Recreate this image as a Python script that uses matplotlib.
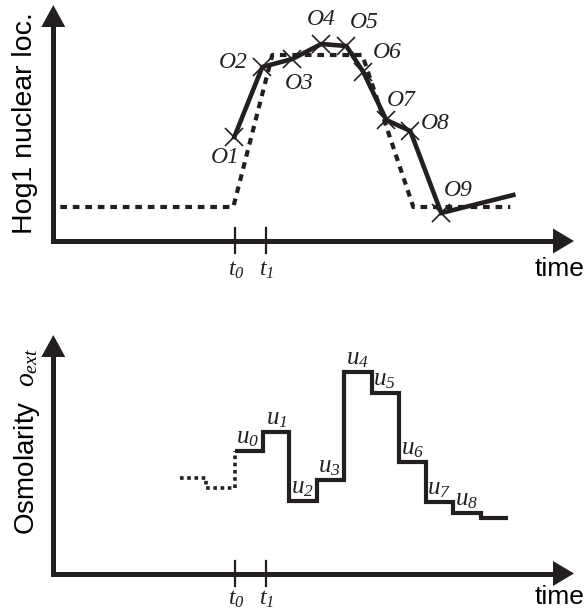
import matplotlib
matplotlib.use("Agg")
import matplotlib.pyplot as plt
from matplotlib.patches import Polygon
import numpy as np

plt.rcParams['mathtext.fontset'] = 'custom'
plt.rcParams['mathtext.it'] = 'Liberation Serif:italic'
plt.rcParams['mathtext.rm'] = 'Liberation Serif:italic'
plt.rcParams['mathtext.default'] = 'it'

INK = '#231f20'

# ---------------- data (top panel: Hog1 nuclear localisation) ----------------
obs_time = [181, 209, 239, 268, 293, 310, 333, 357, 388]
obs_value = [104, 174, 182, 197, 195, 169, 121, 110, 28]
obs_labels = ['O1', 'O2', 'O3', 'O4', 'O5', 'O6', 'O7', 'O8', 'O9']
tail_time = [460]
tail_value = [46]

model_time = [7, 180, 219, 309, 360, 457]
model_value = [34, 34, 186, 186, 34, 34]

# ---------------- data (bottom panel: osmolarity steps) ----------------
step_edges = [181.7, 210, 236, 263.4, 291, 318.4, 346, 372.7, 400, 427.4, 455]
step_levels = [122.5, 141.8, 72.8, 93.5, 201.2, 180.2, 111.8, 71.8, 60.2, 55.2]
step_labels = ['$u_0$', '$u_1$', '$u_2$', '$u_3$', '$u_4$', '$u_5$', '$u_6$',
               '$u_7$', '$u_8$']
pre_time = [126.7, 152.7, 181.7]
pre_level = [95.2, 85.8, 122.5]

tick_positions = [181.7, 212.4]
tick_labels = ['$t_0$', '$t_1$']

# label offsets (pixels) for observation labels
obs_offsets = [(-9, -20), (-29, 5), (7, -24), (0, 25), (18, 24), (24, 20),
               (15, 20), (25, 8), (17, 23)]

W, H = 587, 609
fig = plt.figure(figsize=(W / 100, H / 100), dpi=100)

X0 = 53.3            # pixel x of y-axes
XTIP = 574.0         # pixel x of arrow tips
XLIM = XTIP - X0

# panel geometry in pixels: (axis y, arrow tip y, label offset)
panels = [(241.0, 5.0, 28), (573.5, 335.0, 24)]


def data_axes(ybase, ytop):
    ax = fig.add_axes([X0 / W, 1 - ybase / H, XLIM / W, (ybase - ytop) / H])
    ax.set_xlim(0, XLIM)
    ax.set_ylim(0, ybase - ytop)
    ax.set_axis_off()
    ax.patch.set_alpha(0)
    return ax


# decoration overlay in pixel coordinates
deco = fig.add_axes([0, 0, 1, 1])
deco.set_xlim(0, W)
deco.set_ylim(H, 0)
deco.set_axis_off()

for ybase, ytop, loff in panels:
    deco.plot([X0, X0, XTIP - 20], [ytop + 20, ybase, ybase], color=INK,
              lw=3.6, solid_joinstyle='miter', solid_capstyle='butt')
    deco.add_patch(Polygon([[X0, ytop], [X0 - 12, ytop + 22], [X0 + 12, ytop + 22]],
                           closed=True, color=INK, lw=0))
    deco.add_patch(Polygon([[XTIP, ybase], [XTIP - 21, ybase - 12.5],
                            [XTIP - 21, ybase + 12.5]],
                           closed=True, color=INK, lw=0))
    deco.text(560, ybase + loff, 'time', family='Liberation Sans', fontsize=19,
              ha='center', va='center', color='black')

ax1 = data_axes(*panels[0][:2])
ax2 = data_axes(*panels[1][:2])

for ax, (ybase, ytop, loff) in zip([ax1, ax2], panels):
    for tp, tl in zip(tick_positions, tick_labels):
        ax.plot([tp, tp], [-12, 13], color=INK, lw=1.6, clip_on=False)
        ax.annotate(tl, (tp, 0), xytext=(1, -loff), textcoords='offset pixels',
                    ha='center', va='center', fontsize=17, color=INK,
                    annotation_clip=False)

# top panel
ax1.plot(model_time, model_value, color=INK, lw=3.0, dashes=(1.6, 1.4),
         dash_capstyle='butt', clip_on=False)
ax1.plot(obs_time + tail_time, obs_value + tail_value, color=INK, lw=3.3,
         solid_joinstyle='miter', clip_on=False)
ax1.plot(obs_time, obs_value, ls='none', marker='x', ms=13, mew=1.2,
         color=INK, clip_on=False)
for t, v, lab, off in zip(obs_time, obs_value, obs_labels, obs_offsets):
    ax1.annotate(lab, (t, v), xytext=off, textcoords='offset pixels',
                 ha='center', va='center', fontsize=17, family='Liberation Serif',
                 style='italic', color=INK, annotation_clip=False)

# bottom panel
ax2.step(pre_time, pre_level, where='post', color=INK, lw=2.6,
         dashes=(1.0, 1.0), dash_capstyle='butt', clip_on=False)
ax2.stairs(step_levels, step_edges, baseline=None, color=INK, lw=3.0,
           joinstyle='miter', clip_on=False)
for e, v, lab in zip(step_edges, step_levels, step_labels):
    ax2.annotate(lab, (e, v), xytext=(13, 14), textcoords='offset pixels',
                 ha='center', va='center', fontsize=18, color=INK,
                 annotation_clip=False)

# y-axis labels
deco.text(25, 123, 'Hog1 nuclear loc.', rotation=90, family='Liberation Sans',
          fontsize=20.5, ha='center', va='center', color='black')
deco.text(27, 442, r'Osmolarity  $o_{ext}$', rotation=90,
          family='Liberation Sans', fontsize=20, ha='center', va='center',
          color='black')

fig.savefig('out.png', dpi=100)
